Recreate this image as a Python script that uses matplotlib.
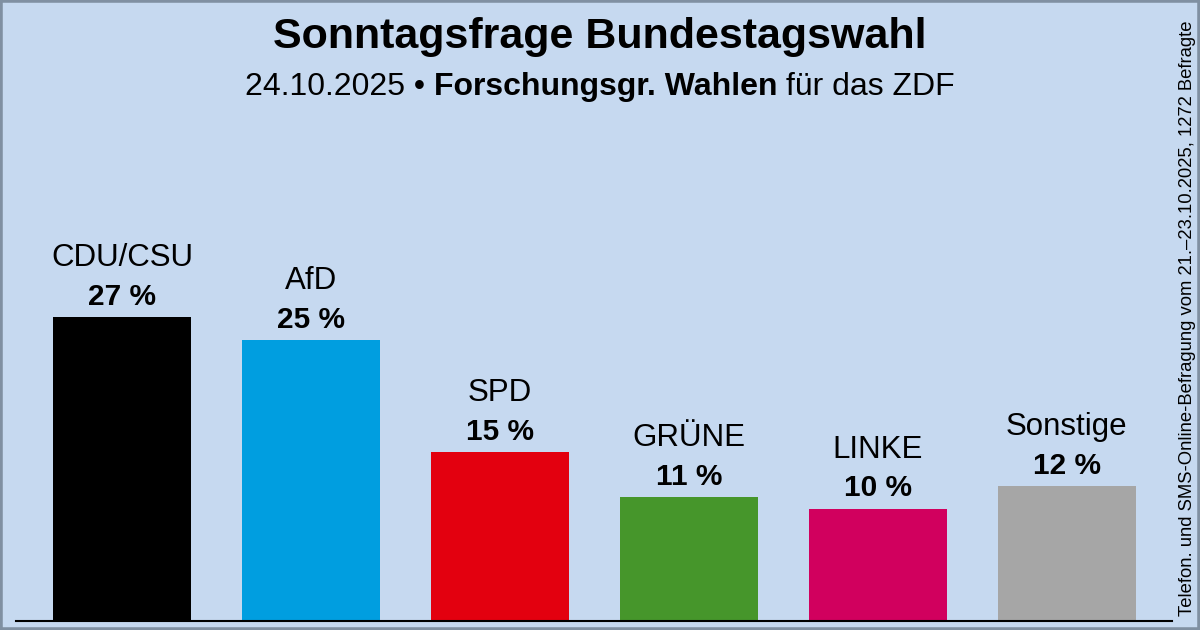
import matplotlib.pyplot as plt
from matplotlib.patches import Rectangle

# --- DATA ---
parties = ["CDU/CSU", "AfD", "SPD", "GRÜNE", "LINKE", "Sonstige"]
values = [27, 25, 15, 11, 10, 12]
colors = ["#000000", "#009ee0", "#e3000f", "#46962b", "#d1005e", "#a6a6a6"]

TITLE = "Sonntagsfrage Bundestagswahl"
DATE = "24.10.2025"
INSTITUTE = "Forschungsgr. Wahlen"
CLIENT = "für das ZDF"
NOTE = "Telefon. und SMS-Online-Befragung vom 21.–23.10.2025, 1272 Befragte"

BG = "#c6d9f0"
W, H = 1200, 630

plt.rcParams['font.family'] = ['Liberation Sans', 'DejaVu Sans']

fig = plt.figure(figsize=(W / 100, H / 100), dpi=100)
fig.patch.set_facecolor(BG)

# plot area in pixels: x 16..1172, baseline at y=621 (from top)
px_per_pct = 11.25
ax = fig.add_axes([16 / W, (H - 621) / H, (1172 - 16) / W, 621 / H])
ax.set_facecolor("none")
x = list(range(len(parties)))
ax.bar(x, values, width=0.73, color=colors, zorder=2)
ax.set_xlim(-0.561, 5.556)
ax.set_ylim(0, 621 / px_per_pct)
for s in ["top", "right", "left"]:
    ax.spines[s].set_visible(False)
ax.spines["bottom"].set_color("#000000")
ax.spines["bottom"].set_linewidth(1.5)
ax.set_xticks([])
ax.set_yticks([])

for xi, name, v in zip(x, parties, values):
    ax.annotate(f"{v} %", (xi, v), xytext=(0, 12), textcoords="offset pixels",
                ha="center", va="baseline", fontsize=21.5, fontweight="bold")
    ax.annotate(name, (xi, v), xytext=(0, 51), textcoords="offset pixels",
                ha="center", va="baseline", fontsize=22.5)

# titles
fig.text(600 / W, 1 - 48 / H, TITLE, ha="center", va="baseline",
         fontsize=31, fontweight="bold")
# subtitle with bold institute name: build from three pieces
t1 = fig.text(0, 0, DATE + " • ", fontsize=23)
t2 = fig.text(0, 0, INSTITUTE, fontsize=23, fontweight="bold")
t3 = fig.text(0, 0, " " + CLIENT, fontsize=23)
fig.canvas.draw()
r = fig.canvas.get_renderer()
w1 = t1.get_window_extent(r).width
w2 = t2.get_window_extent(r).width
w3 = t3.get_window_extent(r).width
start = 600 - (w1 + w2 + w3) / 2
ypos = 1 - 95 / H
for t, off in [(t1, 0), (t2, w1), (t3, w1 + w2)]:
    t.set_position(((start + off) / W, ypos))
    t.set_va("baseline")

# vertical note on the right
fig.text(1187 / W, 1 - 616 / H, NOTE, rotation=90, ha="center", va="bottom",
         fontsize=13.3)

# border
fig.patches.append(Rectangle((0, 0), 1, 1, transform=fig.transFigure, fill=False,
                             edgecolor="#8090a2", linewidth=4))

fig.savefig("out.png", dpi=100, facecolor=BG)
